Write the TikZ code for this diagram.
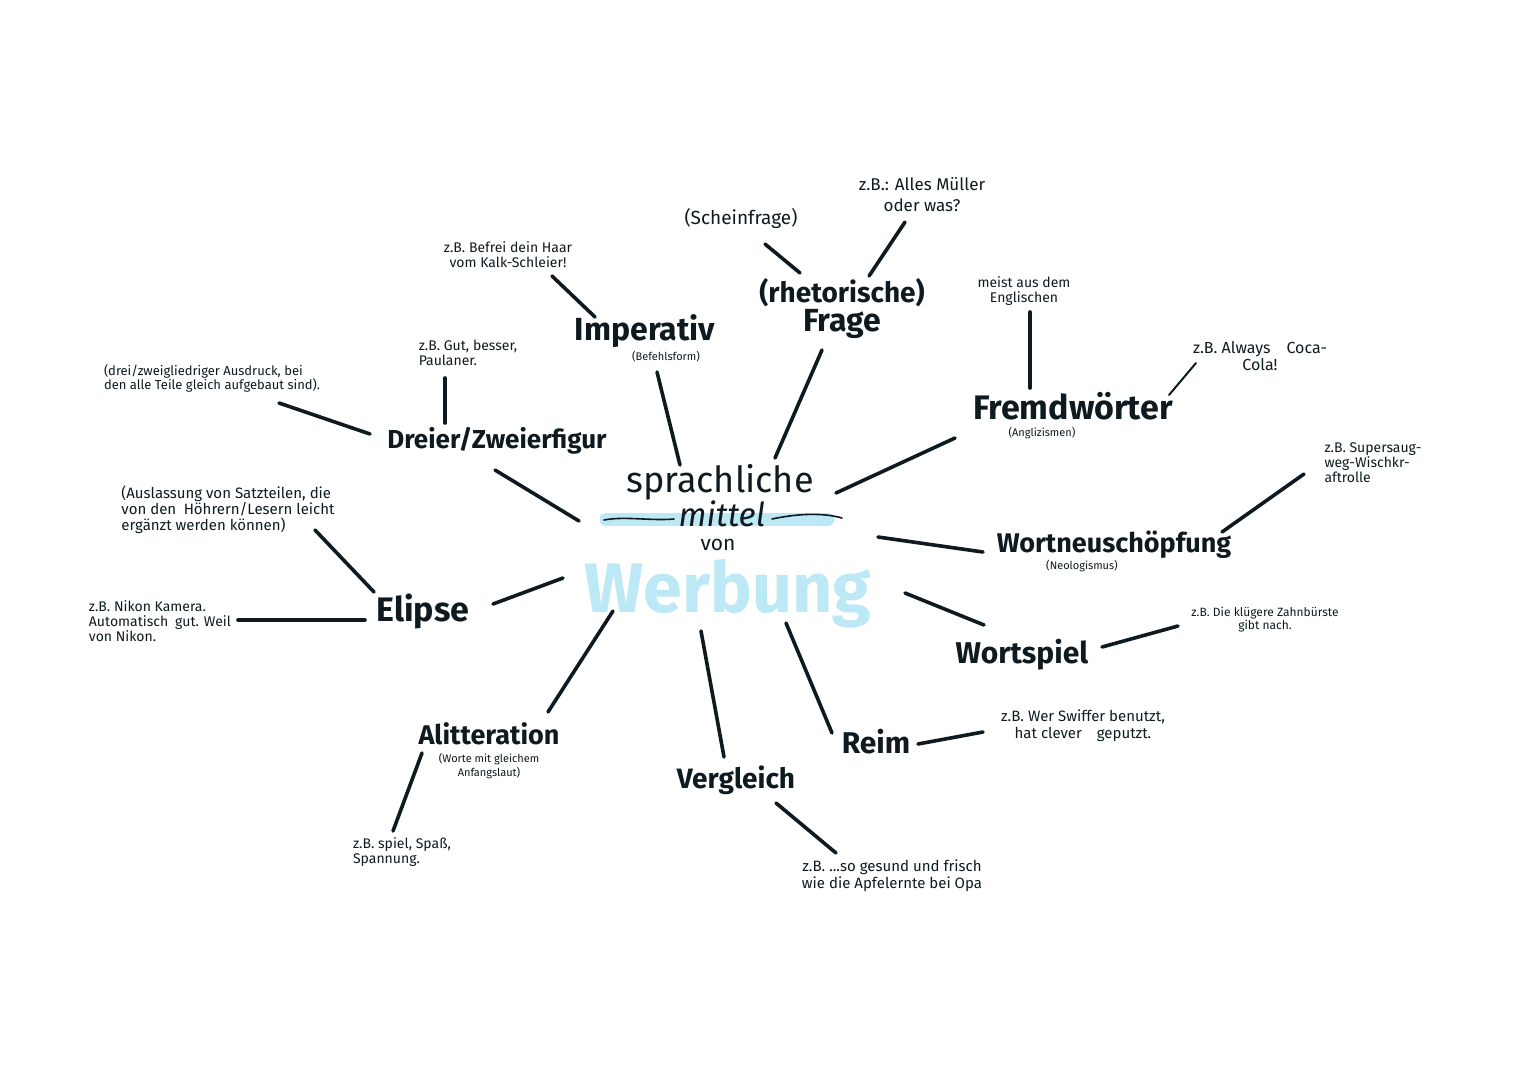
\documentclass[tikz,border=0pt]{standalone}
\usepackage{fontspec}
\setmainfont{Fira Sans}
\definecolor{ink}{HTML}{0E1A1F}
\definecolor{glow}{HTML}{BDE8F6}
\tikzset{
  conn/.style={draw=ink, line width=3.6pt, line cap=round},
  mainlbl/.style={text=ink, inner sep=0pt, font=\bfseries\fontsize{32}{36}\selectfont},
  note/.style={text=ink, inner sep=0pt, align=center, font=\fontsize{14}{15}\selectfont},
  sub/.style={text=ink, inner sep=0pt, font=\fontsize{11}{12}\selectfont},
}
\begin{document}
\begin{tikzpicture}[x=1pt,y=-1pt]
\useasboundingbox (0,0) rectangle (1527,1080);

% centre
\draw[glow, line width=13pt, line cap=round] (606,519) -- (828,519);
\node[inner sep=0pt, text=ink, font=\fontsize{36}{38}\selectfont] (spr) at (720,482) {sprachliche};
\node[inner sep=0pt, text=ink, text depth=0pt, font=\itshape\fontsize{33}{35}\selectfont] (mit) at (722,514) {mittel};
\draw[ink, line width=1.6pt, line cap=round] (604,520) .. controls (625,516) and (650,521) .. (674,519);
\draw[ink, line width=1.6pt, line cap=round] (772,519) .. controls (805,512) and (828,514) .. (842,518);
\node[inner sep=0pt, text=ink, font=\fontsize{21}{23}\selectfont] (von) at (718,545) {von};
\node[inner sep=0pt, text=glow, font=\bfseries\fontsize{70}{74}\selectfont] (werb) at (728,594) {Werbung};

% main labels
\node[mainlbl] (imp) at (645,331) {Imperativ};
\node[sub] (impsub) at (666,357) {(Befehlsform)};
\node[mainlbl, font=\bfseries\fontsize{28}{30}\selectfont] (rhet) at (842,293) {(rhetorische)};
\node[mainlbl] (frage) at (842,324) {Frage};
\node[mainlbl, font=\bfseries\fontsize{34}{36}\selectfont] (fremd) at (1073,406) {Fremdwörter};
\node[sub] (fremdsub) at (1042,433) {(Anglizismen)};
\node[mainlbl, font=\bfseries\fontsize{27}{30}\selectfont] (neu) at (1114,545) {Wortneuschöpfung};
\node[sub] (neusub) at (1082,566) {(Neologismus)};
\node[mainlbl, font=\bfseries\fontsize{30}{32}\selectfont] (spiel) at (1022,655) {Wortspiel};
\node[mainlbl, font=\bfseries\fontsize{30}{32}\selectfont] (reim) at (876,742) {Reim};
\node[mainlbl, font=\bfseries\fontsize{28}{30}\selectfont] (vgl) at (736,780) {Vergleich};
\node[mainlbl, font=\bfseries\fontsize{27}{30}\selectfont] (alit) at (489,734) {Alitteration};
\node[sub, align=center] (alitsub) at (489,766) {(Worte mit gleichem\\[2pt]Anfangslaut)};
\node[mainlbl, font=\bfseries\fontsize{34}{36}\selectfont] (elip) at (423,611) {Elipse};
\node[mainlbl, font=\bfseries\fontsize{26}{30}\selectfont] (drei) at (497,441) {Dreier/Zweierfigur};

% notes
\node[note] (n-imp) at (508,255) {z.B. Befrei dein Haar\\vom Kalk-Schleier!};
\node[note, font=\fontsize{19}{21}\selectfont] (n-schein) at (741,218) {(Scheinfrage)};
\node[note, font=\fontsize{17}{21}\selectfont] (n-rhet) at (922,195) {z.B.: Alles Müller\\oder was?};
\node[note] (n-fremd1) at (1024,291) {meist aus dem\\Englischen};
\node[note, font=\fontsize{16}{17}\selectfont] (n-fremd2) at (1260,356) {z.B. Always\quad Coca-\\Cola!};
\node[note, align=left] (n-neu) at (1373,463) {z.B. Supersaug-\\weg-Wischkr-\\aftrolle};
\node[note, font=\fontsize{12}{13}\selectfont] (n-spiel) at (1265,620) {z.B. Die klügere Zahnbürste\\gibt nach.};
\node[note, font=\fontsize{15}{17}\selectfont] (n-reim) at (1083,726) {z.B. Wer Swiffer benutzt,\\hat clever\quad geputzt.};
\node[note, font=\fontsize{15}{17}\selectfont] (n-vgl) at (892,876) {z.B. ...so gesund und frisch\\wie die Apfelernte bei Opa};
\node[note, align=left] (n-alit) at (402,852) {z.B. spiel, Spaß,\\Spannung.};
\node[note, align=left] (n-elip1) at (160,621) {z.B. Nikon Kamera.\\Automatisch\enspace gut. Weil\\von Nikon.};
\node[note, align=left, font=\fontsize{15}{16}\selectfont] (n-elip2) at (228,510) {(Auslassung von Satzteilen, die\\von den\enspace Höhrern/Lesern leicht\\ergänzt werden können)};
\node[note, align=left] (n-drei1) at (468,353) {z.B. Gut, besser,\\Paulaner.};
\node[note, align=left, font=\fontsize{13}{14}\selectfont] (n-drei2) at (212,378) {(drei/zweigliedriger Ausdruck, bei\\den alle Teile gleich aufgebaut sind).};

% connector end points
\coordinate (c-imp-a) at (657,372);   \coordinate (c-imp-b) at (680,465);
\coordinate (c-fra-a) at (822,350);   \coordinate (c-fra-b) at (775,458);
\coordinate (c-fre-a) at (955,438);   \coordinate (c-fre-b) at (836,493);
\coordinate (c-neu-a) at (983,552);   \coordinate (c-neu-b) at (878,537);
\coordinate (c-spi-a) at (984,625);   \coordinate (c-spi-b) at (905,593);
\coordinate (c-rei-a) at (832,733);   \coordinate (c-rei-b) at (786,623);
\coordinate (c-vgl-a) at (724,757);   \coordinate (c-vgl-b) at (701,631);
\coordinate (c-ali-a) at (548,712);   \coordinate (c-ali-b) at (613,611);
\coordinate (c-eli-a) at (493,604);   \coordinate (c-eli-b) at (563,578);
\coordinate (c-dre-a) at (495,470);   \coordinate (c-dre-b) at (579,521);

\coordinate (d-imp-a) at (552,276);   \coordinate (d-imp-b) at (595,317);
\coordinate (d-sch-a) at (765,244);   \coordinate (d-sch-b) at (800,273);
\coordinate (d-rhe-a) at (905,222);   \coordinate (d-rhe-b) at (869,276);
\coordinate (d-fr1-a) at (1030,312);  \coordinate (d-fr1-b) at (1030,388);
\coordinate (d-fr2-a) at (1196,363);  \coordinate (d-fr2-b) at (1169,395);
\coordinate (d-neu-a) at (1304,474);  \coordinate (d-neu-b) at (1222,532);
\coordinate (d-spi-a) at (1178,626);  \coordinate (d-spi-b) at (1102,647);
\coordinate (d-rei-a) at (983,732);   \coordinate (d-rei-b) at (918,744);
\coordinate (d-vgl-a) at (776,803);   \coordinate (d-vgl-b) at (836,853);
\coordinate (d-ali-a) at (422,753);   \coordinate (d-ali-b) at (393,831);
\coordinate (d-el1-a) at (238,620);   \coordinate (d-el1-b) at (365,620);
\coordinate (d-el2-a) at (315,530);   \coordinate (d-el2-b) at (374,592);
\coordinate (d-dr1-a) at (445,378);   \coordinate (d-dr1-b) at (445,423);
\coordinate (d-dr2-a) at (279,403);   \coordinate (d-dr2-b) at (370,434);

\foreach \n in {c-imp,c-fra,c-fre,c-neu,c-spi,c-rei,c-vgl,c-ali,c-eli,c-dre,
                d-imp,d-sch,d-rhe,d-fr1,d-neu,d-spi,d-rei,d-vgl,d-ali,d-el1,d-el2,d-dr1,d-dr2}
  \draw[conn] (\n-a) -- (\n-b);
\draw[conn, line width=2pt] (d-fr2-a) -- (d-fr2-b);
\end{tikzpicture}
\end{document}
